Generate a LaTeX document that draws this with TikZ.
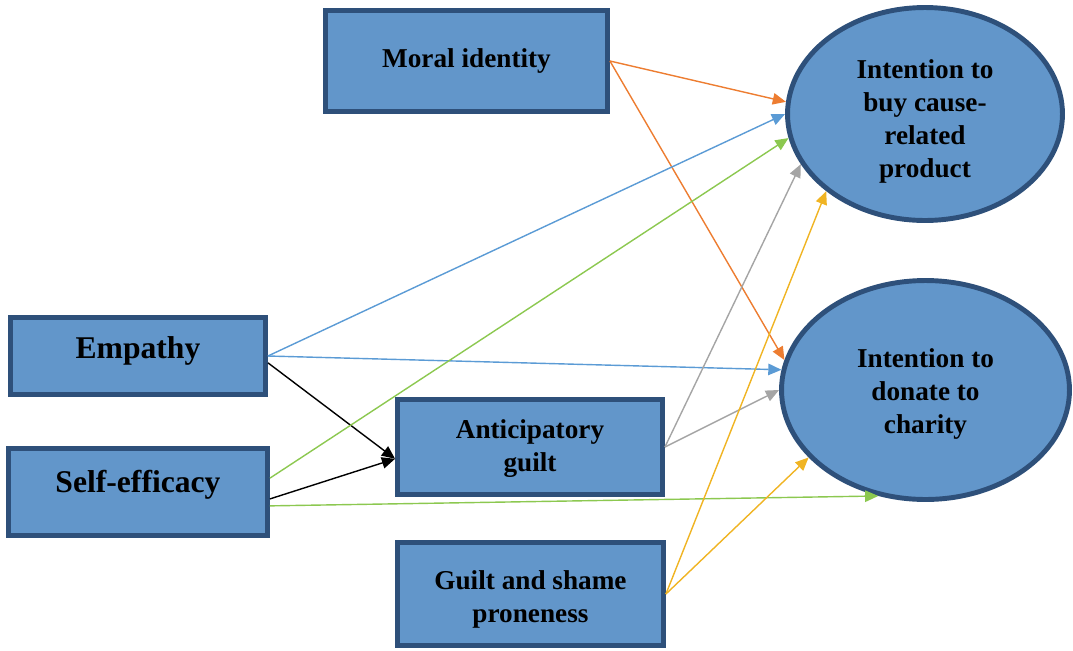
\documentclass[tikz,border=0pt]{standalone}
\usepackage{fontspec}
\setmainfont{Liberation Serif}
\usepackage{tikz}
\usetikzlibrary{arrows.meta, shapes.geometric}
\definecolor{boxfill}{RGB}{98,150,202}
\definecolor{boxline}{RGB}{46,80,122}
\definecolor{arrorange}{RGB}{237,125,49}
\definecolor{arrblue}{RGB}{91,155,213}
\definecolor{arrgreen}{RGB}{140,200,80}
\definecolor{arrgray}{RGB}{165,165,165}
\definecolor{arryellow}{RGB}{240,180,35}
\tikzset{BoxStyle/.style = {
			shape          = rectangle,
			draw           = boxline,
			fill           = boxfill,
			line width     = 2.8pt,
			inner sep      = 0pt}
			}
\tikzset{OvalStyle/.style = {BoxStyle,
			shape          = ellipse}
			}
\tikzset{LabelStyle/.style = {
			text           = black,
			align          = center,
			inner sep      = 1pt,
			font           = \bfseries\fontsize{15.5}{18.8}\selectfont}
			}
\tikzset{BigLabelStyle/.style = {LabelStyle,
			font           = \bfseries\fontsize{18}{21}\selectfont}
			}
\tikzset{EdgeStyle/.style = {line width=0.8pt,-{Triangle[length=7.5pt,width=6.5pt]}}}

\begin{document}
\begin{tikzpicture}[x=0.02cm,y=-0.02cm]
	\useasboundingbox (0,0) rectangle (1073,650);
	% boxes and ovals
	\draw (466.5,61) node[BoxStyle,minimum width=5.64cm,minimum height=2.02cm] (Moral) {};
	\draw (138,356) node[BoxStyle,minimum width=5.1cm,minimum height=1.54cm] (Empathy) {};
	\draw (138,492) node[BoxStyle,minimum width=5.18cm,minimum height=1.74cm] (Efficacy) {};
	\draw (530,447) node[BoxStyle,minimum width=5.3cm,minimum height=1.9cm] (Guilt) {};
	\draw (530.5,594) node[BoxStyle,minimum width=5.32cm,minimum height=2.06cm] (Shame) {};
	\draw (925,114) node[OvalStyle,minimum width=5.5cm,minimum height=4.26cm] (Buy) {};
	\draw (925.5,390) node[OvalStyle,minimum width=5.76cm,minimum height=4.38cm] (Donate) {};

	% texts
	\draw (466.5,61) node[LabelStyle] (MoralText) {Moral identity};
	\draw (138,351) node[BigLabelStyle] (EmpathyText) {Empathy};
	\draw (138,485) node[BigLabelStyle] (EfficacyText) {Self-efficacy};
	\draw (530,449) node[LabelStyle] (GuiltText) {Anticipatory\\guilt};
	\draw (530.5,599) node[LabelStyle] (ShameText) {Guilt and shame\\proneness};
	\draw (925,121) node[LabelStyle] (BuyText) {Intention to\\buy cause-\\related\\product};
	\draw (925.5,394) node[LabelStyle] (DonateText) {Intention to\\donate to\\charity};

	% paths
	\draw[EdgeStyle,arrorange]	(Moral.east) to (Buy.175);
	\draw[EdgeStyle,arrorange]	(Moral.east) to (Donate.168);
	\draw[EdgeStyle,arrblue]	(Empathy.east) to (Buy.180);
	\draw[EdgeStyle,arrblue]	(Empathy.east) to (Donate.172);
	\draw[EdgeStyle,black]	(Empathy.-3.5) to (Guilt.185);
	\draw[EdgeStyle,arrgreen]	(Efficacy.6) to (Buy.190);
	\draw[EdgeStyle,black]	(Efficacy.-3.5) to (Guilt.185);
	\draw[EdgeStyle,arrgreen]	(Efficacy.-6.5) to (Donate.246.5);
	\draw[EdgeStyle,arrgray]	(Guilt.east) to (Buy.202);
	\draw[EdgeStyle,arrgray]	(Guilt.east) to (Donate.180);
	\draw[EdgeStyle,arryellow]	(Shame.east) to (Buy.218);
	\draw[EdgeStyle,arryellow]	(Shame.east) to (Donate.210.5);
\end{tikzpicture}
\end{document}
